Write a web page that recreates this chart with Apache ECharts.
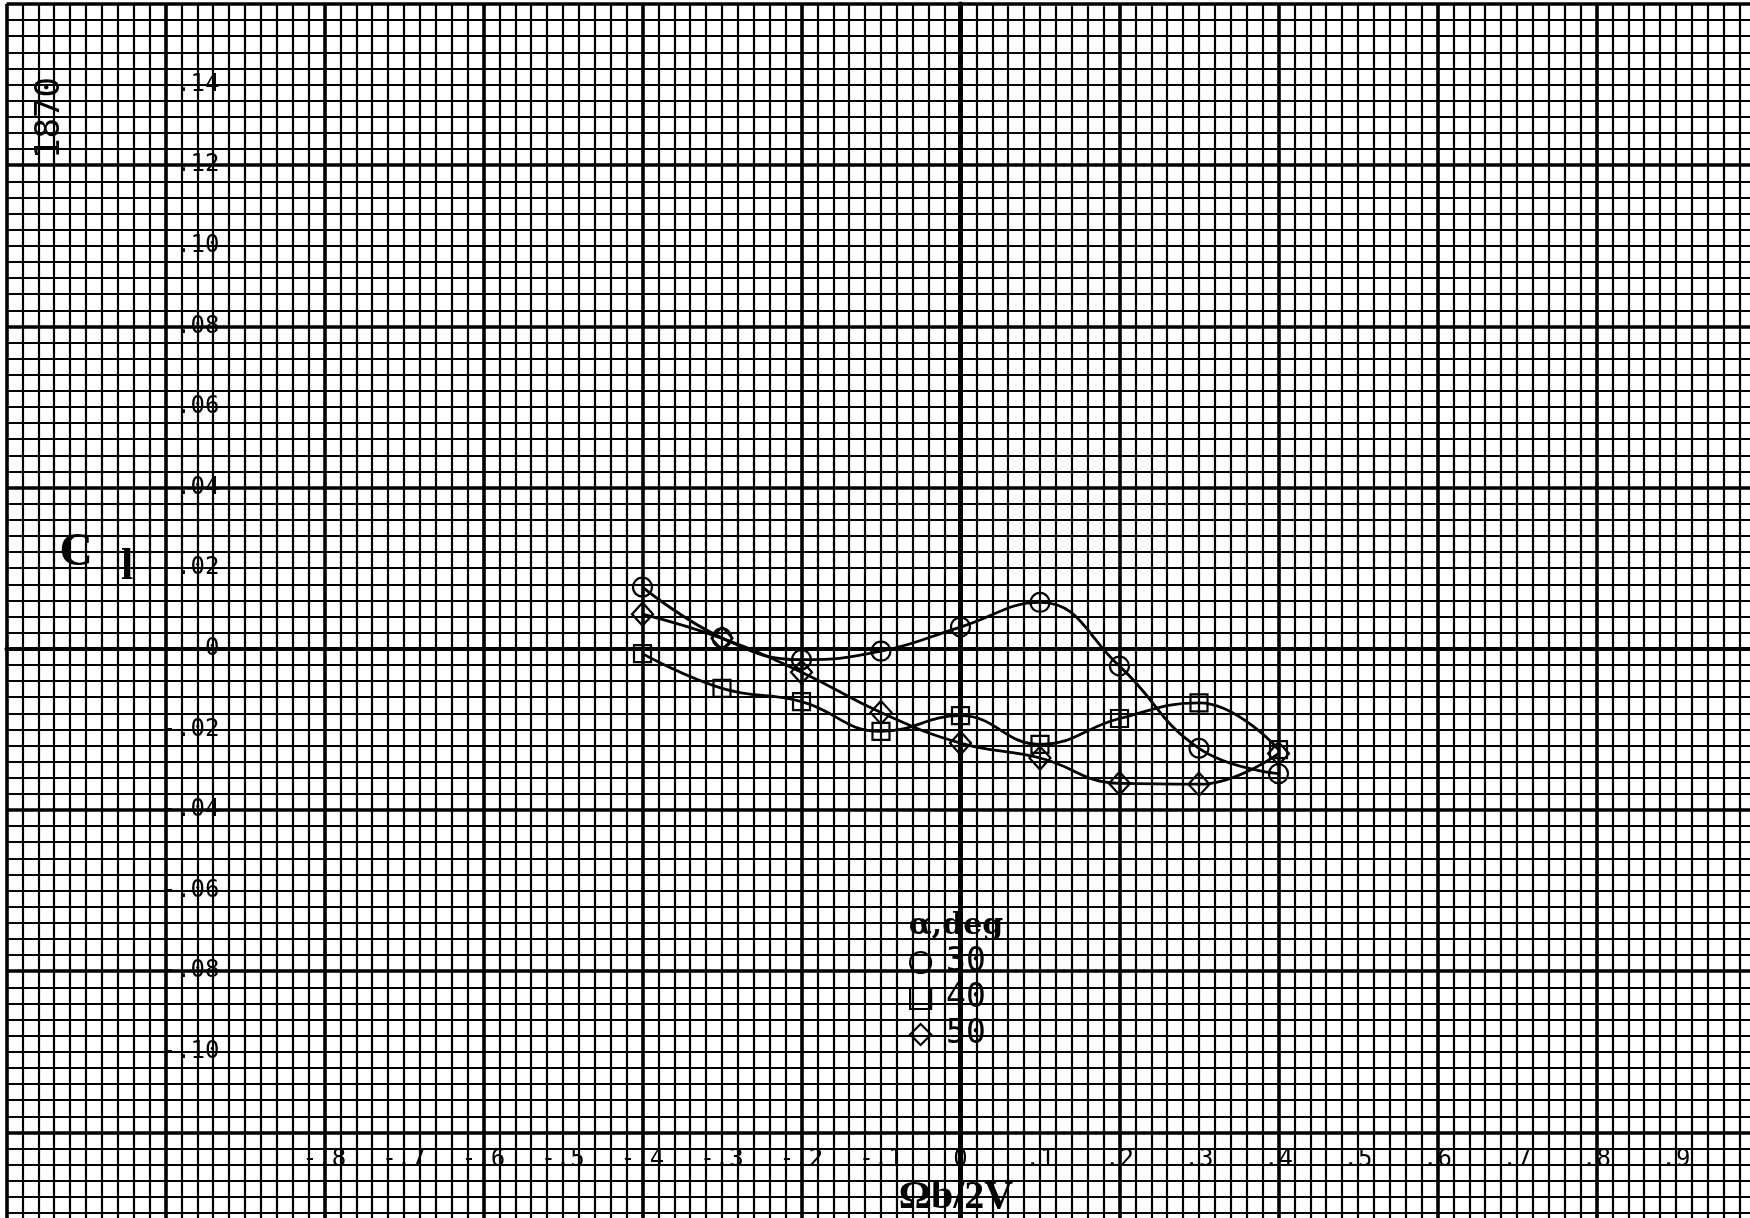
<!DOCTYPE html>
<html>
<head>
<meta charset="utf-8">
<script src="https://cdn.jsdelivr.net/npm/echarts@6/dist/echarts.min.js"></script>
<style>
html,body{margin:0;padding:0;background:#fff;}
#chart{width:1750px;height:1218px;}
</style>
</head>
<body>
<div id="chart"></div>
<script>
// ---- data ----
const xValues = [-0.4, -0.3, -0.2, -0.1, 0, 0.1, 0.2, 0.3, 0.4];
const cl30 = [0.0153, 0.0027, -0.0027, -0.0006, 0.0054, 0.0115, -0.0043, -0.0247, -0.0310];
const cl40 = [-0.0012, -0.0098, -0.0131, -0.0205, -0.0166, -0.0237, -0.0173, -0.0134, -0.0250];
const cl50 = [0.0086, 0.0026, -0.0058, -0.0158, -0.0234, -0.0271, -0.0334, -0.0336, -0.0260];
const seriesNames = ['30', '40', '50'];
const legendTitle = 'α,deg';

const xTickValues = [-0.8, -0.7, -0.6, -0.5, -0.4, -0.3, -0.2, -0.1, 0, 0.1, 0.2, 0.3, 0.4, 0.5, 0.6, 0.7, 0.8, 0.9];
const xTickLabels = ['-.8', '-.7', '-.6', '-.5', '-.4', '-.3', '-.2', '-.1', '0', '.1', '.2', '.3', '.4', '.5', '.6', '.7', '.8', '.9'];
const yTickValues = [0.14, 0.12, 0.10, 0.08, 0.06, 0.04, 0.02, 0, -0.02, -0.04, -0.06, -0.08, -0.10];
const yTickLabels = ['.14', '.12', '.10', '.08', '.06', '.04', '.02', '0', '-.02', '-.04', '-.06', '-.08', '-.10'];

const xTitle = 'Ωb/2V';
const yTitleMain = 'C';
const yTitleSub = 'l';
const sheetNumber = '1870';

// ---- helpers ----
function lookup(values, labels, v) {
  for (let i = 0; i < values.length; i++) {
    if (Math.abs(values[i] - v) < 1e-6) return labels[i];
  }
  return '';
}
const pairs = ys => xValues.map((x, i) => [x, ys[i]]);

const MONO = 'DejaVu Sans Mono';
const SERIF = 'Liberation Serif';

const chart = echarts.init(document.getElementById('chart'), null, {renderer: 'canvas'});

const gridTop = 4, gridLeft = 6.5;
const gridHeight = 1289.6, gridWidth = 1749;

const markerStyle = {color: 'transparent', borderColor: '#000', borderWidth: 2.2};
const curveStyle = {color: '#000', width: 2.8};

chart.setOption({
  animation: false,
  backgroundColor: '#fff',
  grid: {
    left: gridLeft, top: gridTop, width: gridWidth, height: gridHeight,
    containLabel: false, outerBoundsMode: 'none'
  },
  xAxis: [
    {
      type: 'value', min: -1.2, max: 1.0, interval: 0.2, position: 'bottom',
      axisLine: {show: true, onZero: true, lineStyle: {color: '#000', width: 4.2}},
      axisTick: {show: false}, axisLabel: {show: false},
      splitLine: {show: true, lineStyle: {color: '#000', width: 3.6}},
      minorTick: {show: false, splitNumber: 10},
      minorSplitLine: {show: true, lineStyle: {color: '#000', width: 2.2}}
    },
    {
      type: 'value', min: -1.2, max: 1.0, interval: 0.1, position: 'bottom',
      axisLine: {show: false, onZero: false}, axisTick: {show: false},
      splitLine: {show: false},
      axisLabel: {
        show: true, inside: true, margin: 134, verticalAlign: 'middle', hideOverlap: false,
        showMinLabel: true, showMaxLabel: true,
        fontFamily: MONO, fontSize: 24, color: '#000',
        formatter: v => lookup(xTickValues, xTickLabels, v)
      }
    }
  ],
  yAxis: [
    {
      type: 'value', min: -0.16, max: 0.16, interval: 0.04, position: 'left',
      axisLine: {show: true, onZero: true, lineStyle: {color: '#000', width: 5}},
      axisTick: {show: false}, axisLabel: {show: false},
      splitLine: {show: true, lineStyle: {color: '#000', width: 3.6}},
      minorTick: {show: false, splitNumber: 10},
      minorSplitLine: {show: true, lineStyle: {color: '#000', width: 2.2}}
    },
    {
      type: 'value', min: -0.16, max: 0.16, interval: 0.02, position: 'left',
      axisLine: {show: false, onZero: false}, axisTick: {show: false},
      splitLine: {show: false},
      axisLabel: {
        show: true, inside: true, margin: 213, align: 'right', verticalAlign: 'middle',
        hideOverlap: false, fontFamily: MONO, fontSize: 24, color: '#000',
        formatter: v => lookup(yTickValues, yTickLabels, v)
      }
    }
  ],
  legend: {
    orient: 'vertical', left: 909, top: 946, padding: 0,
    itemWidth: 21, itemHeight: 21, itemGap: 3, selectedMode: false,
    data: [
      {name: seriesNames[0], icon: 'circle'},
      {name: seriesNames[1], icon: 'rect'},
      {name: seriesNames[2], icon: 'diamond'}
    ],
    itemStyle: {color: 'transparent', borderColor: '#000', borderWidth: 2.2},
    textStyle: {fontFamily: MONO, fontSize: 33, color: '#000', padding: [0, 0, 0, 10]}
  },
  series: [
    {
      name: seriesNames[0], type: 'line', xAxisIndex: 0, yAxisIndex: 0,
      data: pairs(cl30), smooth: 0.45, symbol: 'circle', symbolSize: 19,
      itemStyle: markerStyle, lineStyle: curveStyle, z: 5
    },
    {
      name: seriesNames[1], type: 'line', xAxisIndex: 0, yAxisIndex: 0,
      data: pairs(cl40), smooth: 0.45, symbol: 'rect', symbolSize: 17,
      itemStyle: markerStyle, lineStyle: curveStyle, z: 5
    },
    {
      name: seriesNames[2], type: 'line', xAxisIndex: 0, yAxisIndex: 0,
      data: pairs(cl50), smooth: 0.45, symbol: 'diamond', symbolSize: [21, 23],
      itemStyle: markerStyle, lineStyle: curveStyle, z: 5
    }
  ],
  graphic: [
    {
      type: 'text', x: 50, y: 118, rotation: Math.PI / 2, z: 10,
      style: {text: sheetNumber, font: '34px "' + MONO + '"', fill: '#000', align: 'center', verticalAlign: 'middle'}
    },
    {
      type: 'text', x: 76, y: 553, z: 10,
      style: {text: yTitleMain, font: 'bold 46px "' + SERIF + '"', fill: '#000', align: 'center', verticalAlign: 'middle'}
    },
    {
      type: 'text', x: 127, y: 568, z: 10,
      style: {text: yTitleSub, font: 'bold 44px "' + SERIF + '"', fill: '#000', align: 'center', verticalAlign: 'middle'}
    },
    {
      type: 'text', x: 956, y: 1198, z: 10,
      style: {text: xTitle, font: 'bold 40px "' + SERIF + '"', fill: '#000', align: 'center', verticalAlign: 'middle'}
    },
    {
      type: 'text', x: 956, y: 926, z: 10,
      style: {text: legendTitle, font: 'bold 30px "DejaVu Serif"', fill: '#000', align: 'center', verticalAlign: 'middle'}
    }
  ]
});
</script>
</body>
</html>
